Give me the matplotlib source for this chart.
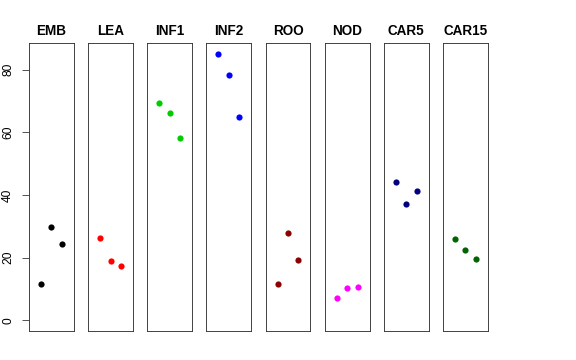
import matplotlib
matplotlib.use("Agg")
import matplotlib.pyplot as plt

plt.rcParams['font.family'] = ['Liberation Sans', 'DejaVu Sans']

categories = ["EMB", "LEA", "INF1", "INF2", "ROO", "NOD", "CAR5", "CAR15"]
values = {
    "EMB":   [11.6, 29.8, 24.5],
    "LEA":   [26.2, 18.9, 17.3],
    "INF1":  [69.4, 66.1, 58.3],
    "INF2":  [85.1, 78.4, 64.8],
    "ROO":   [11.7, 27.9, 19.2],
    "NOD":   [7.1, 10.2, 10.7],
    "CAR5":  [44.2, 37.0, 41.2],
    "CAR15": [26.0, 22.5, 19.7],
}
colors = ["black", "red", "#00CD00", "blue", "#8B0000", "magenta", "#000080", "#006400"]
yticks = [0, 20, 40, 60, 80]

W, H = 576, 360
fig = plt.figure(figsize=(W / 72, H / 72), dpi=72)

ymax = max(max(v) for v in values.values())
ylim = (0 - 0.04 * ymax, ymax * 1.04)

left0 = 29.0
pw = 44.8
step = 59.15
top = 43.0
bottom = 331.0

for i, (cat, col) in enumerate(zip(categories, colors)):
    l = left0 + i * step
    ax = fig.add_axes([l / W, (H - bottom) / H, pw / W, (bottom - top) / H])
    ys = values[cat]
    xs = list(range(1, len(ys) + 1))
    ax.plot(xs, ys, linestyle='none', marker='o', markersize=6.2, color=col,
            markeredgewidth=0)
    ax.set_xlim(-0.16, 4.16)
    ax.set_ylim(*ylim)
    ax.set_xticks([])
    for s in ax.spines.values():
        s.set_linewidth(0.9)
        s.set_color('#333333')
    ax.set_title(cat, fontweight='bold', fontsize=13.5, pad=8)
    if i == 0:
        ax.set_yticks(yticks)
        ax.set_yticklabels([str(t) for t in yticks], rotation=90, va='center',
                           fontsize=12)
        ax.tick_params(axis='y', length=7, width=0.9, color='#444444', pad=8)
    else:
        ax.set_yticks([])

fig.savefig("out.png", dpi=72)
